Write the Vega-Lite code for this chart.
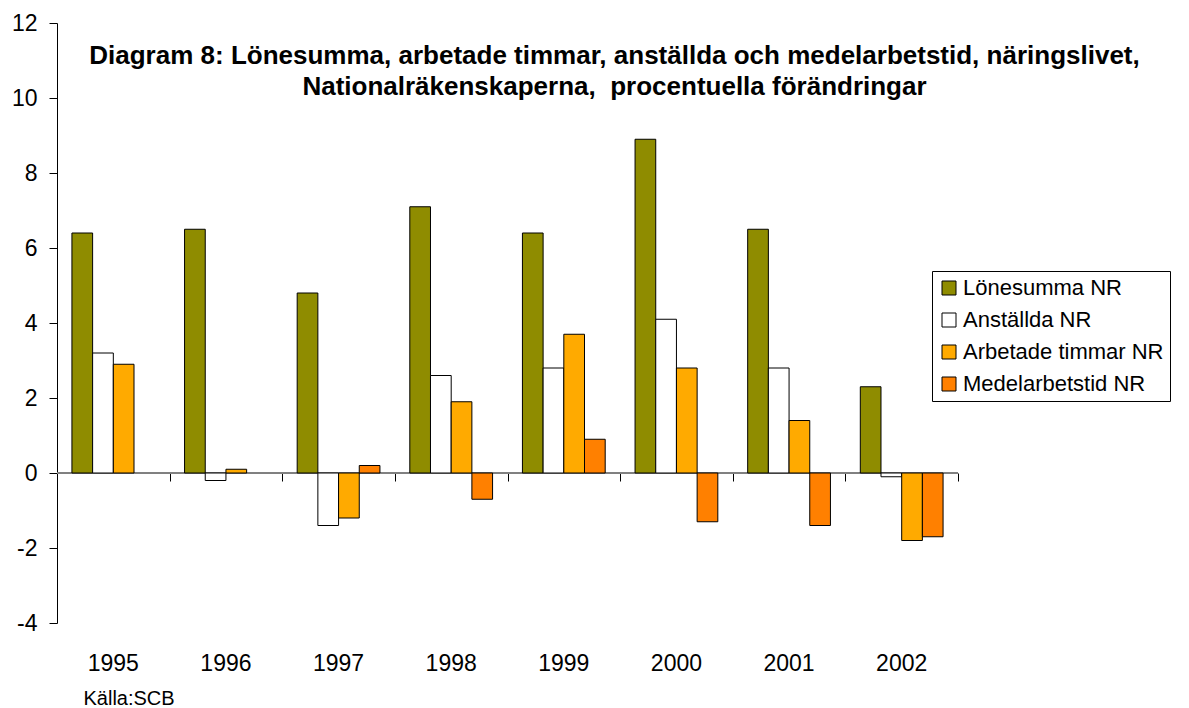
{
  "$schema": "https://vega.github.io/schema/vega-lite/v6.json",
  "width": 901,
  "height": 600,
  "autosize": "none",
  "padding": {"left": 57, "top": 23, "right": 231, "bottom": 85},
  "background": "white",
  "config": {
    "font": "Liberation Sans",
    "view": {"stroke": null},
    "axis": {"labelFont": "Liberation Sans", "titleFont": "Liberation Sans", "labelColor": "black", "grid": false}
  },
  "title": {
    "text": ["Diagram 8: Lönesumma, arbetade timmar, anställda och medelarbetstid, näringslivet,", "Nationalräkenskaperna,\u00a0 procentuella förändringar"],
    "font": "Liberation Sans",
    "fontSize": 26,
    "fontWeight": "bold",
    "color": "black",
    "anchor": "middle",
    "frame": "group",
    "limit": 1300,
    "dx": 107,
    "offset": -88,
    "lineHeight": 31
  },
  "data": {
    "values": [
      {"year": "1995", "series": "Lönesumma NR", "value": 6.4},
      {"year": "1995", "series": "Anställda NR", "value": 3.2},
      {"year": "1995", "series": "Arbetade timmar NR", "value": 2.9},
      {"year": "1996", "series": "Lönesumma NR", "value": 6.5},
      {"year": "1996", "series": "Anställda NR", "value": -0.2},
      {"year": "1996", "series": "Arbetade timmar NR", "value": 0.1},
      {"year": "1997", "series": "Lönesumma NR", "value": 4.8},
      {"year": "1997", "series": "Anställda NR", "value": -1.4},
      {"year": "1997", "series": "Arbetade timmar NR", "value": -1.2},
      {"year": "1997", "series": "Medelarbetstid NR", "value": 0.2},
      {"year": "1998", "series": "Lönesumma NR", "value": 7.1},
      {"year": "1998", "series": "Anställda NR", "value": 2.6},
      {"year": "1998", "series": "Arbetade timmar NR", "value": 1.9},
      {"year": "1998", "series": "Medelarbetstid NR", "value": -0.7},
      {"year": "1999", "series": "Lönesumma NR", "value": 6.4},
      {"year": "1999", "series": "Anställda NR", "value": 2.8},
      {"year": "1999", "series": "Arbetade timmar NR", "value": 3.7},
      {"year": "1999", "series": "Medelarbetstid NR", "value": 0.9},
      {"year": "2000", "series": "Lönesumma NR", "value": 8.9},
      {"year": "2000", "series": "Anställda NR", "value": 4.1},
      {"year": "2000", "series": "Arbetade timmar NR", "value": 2.8},
      {"year": "2000", "series": "Medelarbetstid NR", "value": -1.3},
      {"year": "2001", "series": "Lönesumma NR", "value": 6.5},
      {"year": "2001", "series": "Anställda NR", "value": 2.8},
      {"year": "2001", "series": "Arbetade timmar NR", "value": 1.4},
      {"year": "2001", "series": "Medelarbetstid NR", "value": -1.4},
      {"year": "2002", "series": "Lönesumma NR", "value": 2.3},
      {"year": "2002", "series": "Anställda NR", "value": -0.1},
      {"year": "2002", "series": "Arbetade timmar NR", "value": -1.8},
      {"year": "2002", "series": "Medelarbetstid NR", "value": -1.7}
    ]
  },
  "resolve": {"scale": {"x": "independent"}, "axis": {"x": "independent"}},
  "layer": [
    {
      "mark": {"type": "rule", "color": "#808080", "strokeWidth": 1},
      "encoding": {
        "x": {
          "datum": 0,
          "type": "quantitative",
          "scale": {"domain": [0, 8], "nice": false, "zero": false},
          "axis": {
            "orient": "bottom",
            "offset": -150,
            "values": [0, 1, 2, 3, 4, 5, 6, 7, 8],
            "labels": false,
            "title": null,
            "domain": true,
            "domainColor": "#808080",
            "ticks": true,
            "tickColor": "black",
            "tickSize": 8,
            "grid": false
          }
        },
        "x2": {"datum": 8},
        "y": {"datum": 0, "type": "quantitative"}
      }
    },
    {
      "mark": {"type": "bar", "stroke": "black", "strokeWidth": 1},
      "encoding": {
        "x": {
          "field": "year",
          "type": "nominal",
          "scale": {"paddingInner": 0.265, "paddingOuter": 0.1325},
          "axis": {
            "orient": "bottom",
            "domain": false,
            "ticks": false,
            "tickSize": 0,
            "labelPadding": 29,
            "labelFontSize": 23,
            "labelAngle": 0,
            "title": "Källa:SCB",
            "titleFontSize": 20,
            "titleFontWeight": "normal",
            "titleColor": "black",
            "titleAnchor": "start",
            "titleAlign": "left",
            "titleBaseline": "alphabetic",
            "titleX": 26,
            "titleY": 81
          }
        },
        "xOffset": {
          "field": "series",
          "type": "nominal",
          "scale": {"domain": ["Lönesumma NR", "Anställda NR", "Arbetade timmar NR", "Medelarbetstid NR"], "paddingInner": 0, "paddingOuter": 0}
        },
        "y": {
          "field": "value",
          "type": "quantitative",
          "scale": {"domain": [-4, 12], "nice": false},
          "axis": {
            "values": [-4, -2, 0, 2, 4, 6, 8, 10, 12],
            "labelExpr": "replace(datum.label, '\u2212', '-')",
            "title": null,
            "labelFontSize": 23,
            "labelPadding": 12,
            "tickSize": 8,
            "tickColor": "black",
            "domainColor": "black",
            "grid": false
          }
        },
        "color": {
          "field": "series",
          "type": "nominal",
          "scale": {
            "domain": ["Lönesumma NR", "Anställda NR", "Arbetade timmar NR", "Medelarbetstid NR"],
            "range": ["#8f8c00", "#ffffff", "#ffaa00", "#ff8000"]
          },
          "legend": {
            "title": null,
            "orient": "none",
            "legendX": 875,
            "legendY": 248,
            "strokeColor": "black",
            "fillColor": "white",
            "padding": 6,
            "symbolType": "square",
            "symbolSize": 196,
            "symbolStrokeColor": "black",
            "symbolStrokeWidth": 1,
            "symbolOpacity": 1,
            "labelFontSize": 22,
            "labelColor": "black",
            "labelFont": "Liberation Sans",
            "labelOffset": 3,
            "labelLimit": 500,
            "rowPadding": 10,
            "labelExpr": "datum.label + '\u00a0\u00a0\u00a0\u00a0\u00a0\u00a0'"
          }
        }
      }
    }
  ]
}
